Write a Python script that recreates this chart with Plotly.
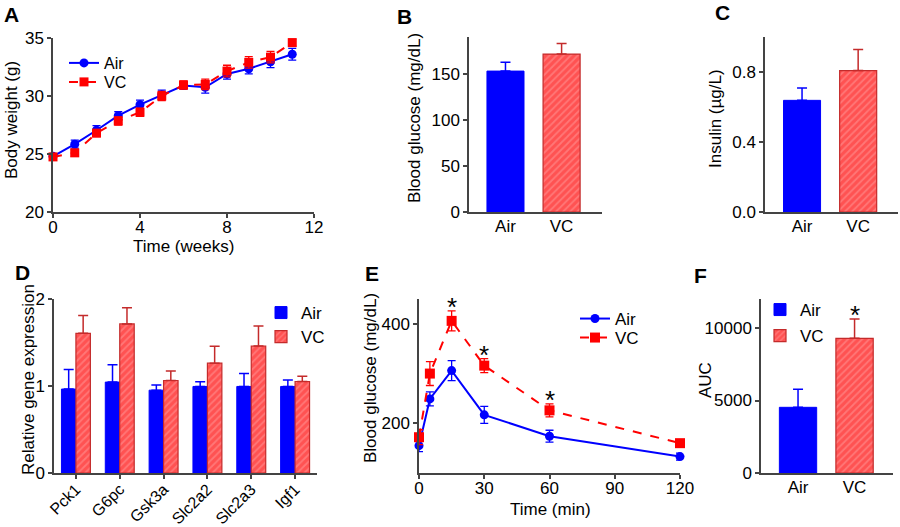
import plotly.graph_objects as go

# ---- data ----
weeks = list(range(12))
air_bw = [24.8, 25.85, 27.05, 28.3, 29.25, 30.1, 30.9, 30.75, 31.9, 32.35, 32.95, 33.6]
air_bw_err = [0.2, 0.35, 0.4, 0.35, 0.4, 0.4, 0.3, 0.5, 0.45, 0.45, 0.5, 0.5]
vc_bw = [24.75, 25.1, 26.8, 27.85, 28.6, 30.0, 30.95, 31.0, 32.15, 32.9, 33.35, 34.6]
vc_bw_err = [0.2, 0.3, 0.3, 0.35, 0.35, 0.4, 0.35, 0.45, 0.5, 0.5, 0.5, 0.3]

groups = ["Air", "VC"]
glucose = [153, 171.5]
glucose_err = [9.5, 11.5]
insulin = [0.638, 0.808]
insulin_err = [0.07, 0.12]

genes = ["Pck1", "G6pc", "Gsk3a", "Slc2a2", "Slc2a3", "Igf1"]
air_gene = [0.965, 1.045, 0.952, 0.995, 0.995, 0.995]
air_gene_err = [0.225, 0.2, 0.06, 0.055, 0.15, 0.075]
vc_gene = [1.605, 1.713, 1.063, 1.262, 1.46, 1.052]
vc_gene_err = [0.205, 0.185, 0.11, 0.195, 0.23, 0.06]

gtt_time = [0, 5, 15, 30, 60, 120]
air_gtt = [155, 249, 306, 217, 174, 133]
air_gtt_err = [12, 14, 20, 17, 12, 7]
vc_gtt = [172, 300, 406, 316, 226, 160]
vc_gtt_err = [15, 24, 20, 14, 13, 7]
gtt_signif = [15, 30, 60]

auc = [4530, 9290]
auc_err = [1240, 1330]

# ---- styling ----
BLUE = "#0000FF"
RED = "#FF0000"
RED_EDGE = "#C42B2B"
AXC = "#444444"
FONT = "Liberation Sans, Arial, sans-serif"
W, H = 900, 527

hatch = dict(shape="/", bgcolor="#FF5252", fgcolor="#FF9C9C", size=5, solidity=0.35)


def xd(a, b):
    return [a / W, b / W]


def yd(top, bottom):
    return [1 - bottom / H, 1 - top / H]


def up_err(err, color):
    return dict(type="data", array=err, arrayminus=[0] * len(err), symmetric=False,
                color=color, thickness=1.5, width=5)


def sym_err(err, color):
    return dict(type="data", array=err, color=color, thickness=1.3, width=4)


fig = go.Figure()

# A: body weight
fig.add_trace(go.Scatter(x=weeks, y=air_bw, error_y=sym_err(air_bw_err, BLUE), name="Air",
                         mode="lines+markers", line=dict(color=BLUE, width=2),
                         marker=dict(symbol="circle", size=9, color=BLUE),
                         xaxis="x", yaxis="y", legend="legend", cliponaxis=False))
fig.add_trace(go.Scatter(x=weeks, y=vc_bw, error_y=sym_err(vc_bw_err, RED), name="VC",
                         mode="lines+markers", line=dict(color=RED, width=2, dash="dash"),
                         marker=dict(symbol="square", size=9, color=RED),
                         xaxis="x", yaxis="y", legend="legend2", cliponaxis=False))

# B: blood glucose
fig.add_trace(go.Bar(x=[groups[0]], y=[glucose[0]], error_y=up_err([glucose_err[0]], BLUE),
                     marker=dict(color=BLUE, line=dict(color=BLUE, width=1)),
                     width=0.66, offset=-0.33, showlegend=False, xaxis="x2", yaxis="y2"))
fig.add_trace(go.Bar(x=[groups[1]], y=[glucose[1]], error_y=up_err([glucose_err[1]], RED_EDGE),
                     marker=dict(color="#FF5252", pattern=hatch, line=dict(color=RED_EDGE, width=1.2)),
                     width=0.66, offset=-0.33, showlegend=False, xaxis="x2", yaxis="y2"))

# C: insulin
fig.add_trace(go.Bar(x=[groups[0]], y=[insulin[0]], error_y=up_err([insulin_err[0]], BLUE),
                     marker=dict(color=BLUE, line=dict(color=BLUE, width=1)),
                     width=0.66, offset=-0.33, showlegend=False, xaxis="x3", yaxis="y3"))
fig.add_trace(go.Bar(x=[groups[1]], y=[insulin[1]], error_y=up_err([insulin_err[1]], RED_EDGE),
                     marker=dict(color="#FF5252", pattern=hatch, line=dict(color=RED_EDGE, width=1.2)),
                     width=0.66, offset=-0.33, showlegend=False, xaxis="x3", yaxis="y3"))

# D: gene expression
fig.add_trace(go.Bar(x=genes, y=air_gene, error_y=up_err(air_gene_err, BLUE), name="Air",
                     marker=dict(color=BLUE, line=dict(color=BLUE, width=1)),
                     width=0.33, offset=-0.33, xaxis="x4", yaxis="y4", legend="legend3"))
fig.add_trace(go.Bar(x=genes, y=vc_gene, error_y=up_err(vc_gene_err, RED_EDGE), name="VC",
                     marker=dict(color="#FF5252", pattern=hatch, line=dict(color=RED_EDGE, width=1.2)),
                     width=0.33, offset=0, xaxis="x4", yaxis="y4", legend="legend4"))

# E: glucose tolerance
fig.add_trace(go.Scatter(x=gtt_time, y=air_gtt, error_y=sym_err(air_gtt_err, BLUE), name="Air",
                         mode="lines+markers", line=dict(color=BLUE, width=2),
                         marker=dict(symbol="circle", size=9, color=BLUE),
                         xaxis="x5", yaxis="y5", legend="legend5", cliponaxis=False))
fig.add_trace(go.Scatter(x=gtt_time, y=vc_gtt, error_y=sym_err(vc_gtt_err, RED), name="VC",
                         mode="lines+markers", line=dict(color=RED, width=2, dash="dash"),
                         marker=dict(symbol="square", size=10, color=RED),
                         xaxis="x5", yaxis="y5", legend="legend6", cliponaxis=False))

# F: AUC
fig.add_trace(go.Bar(x=[groups[0]], y=[auc[0]], error_y=up_err([auc_err[0]], BLUE), name="Air",
                     marker=dict(color=BLUE, line=dict(color=BLUE, width=1)),
                     width=0.66, offset=-0.33, xaxis="x6", yaxis="y6", legend="legend7"))
fig.add_trace(go.Bar(x=[groups[1]], y=[auc[1]], error_y=up_err([auc_err[1]], RED_EDGE), name="VC",
                     marker=dict(color="#FF5252", pattern=hatch, line=dict(color=RED_EDGE, width=1.2)),
                     width=0.66, offset=-0.33, xaxis="x6", yaxis="y6", legend="legend8"))

axis_common = dict(showline=True, linecolor=AXC, linewidth=1.5, ticks="outside", ticklen=4,
                   tickcolor=AXC, tickwidth=1.5, showgrid=False, zeroline=False, automargin=False,
                   tickfont=dict(size=17, color="black", family=FONT))

layout_axes = {
    "xaxis": dict(axis_common, domain=xd(53, 314), anchor="y", range=[0, 12], tickvals=[0, 4, 8, 12],
                  ticklabelstandoff=-5),
    "yaxis": dict(axis_common, domain=yd(38, 212), anchor="x", range=[20, 35], tickvals=[20, 25, 30, 35]),
    "xaxis2": dict(axis_common, domain=xd(469, 602), anchor="y2", range=[-0.65, 1.72], ticks="",
                   ticklabelstandoff=-2),
    "yaxis2": dict(axis_common, domain=yd(37, 212), anchor="x2", range=[0, 190], tickvals=[0, 50, 100, 150]),
    "xaxis3": dict(axis_common, domain=xd(765, 898), anchor="y3", range=[-0.66, 1.71], ticks="",
                   ticklabelstandoff=-2),
    "yaxis3": dict(axis_common, domain=yd(37, 212), anchor="x3", range=[0, 1.0], tickvals=[0, 0.4, 0.8],
                   tickformat=".1f"),
    "xaxis4": dict(axis_common, domain=xd(54, 317), anchor="y4", range=[-0.5, 5.5], tickangle=-45,
                   ticklabelstandoff=-5, tickfont=dict(size=16, color="black", family=FONT)),
    "yaxis4": dict(axis_common, domain=yd(299, 473), anchor="x4", range=[0, 2], tickvals=[0, 1, 2]),
    "xaxis5": dict(axis_common, domain=xd(419, 680), anchor="y5", range=[0, 120],
                   tickvals=[0, 30, 60, 90, 120], ticklabelstandoff=-5),
    "yaxis5": dict(axis_common, domain=yd(299, 473), anchor="x5", range=[100, 450], tickvals=[200, 400]),
    "xaxis6": dict(axis_common, domain=xd(761, 893), anchor="y6", range=[-0.655, 1.68], ticks="",
                   ticklabelstandoff=-2),
    "yaxis6": dict(axis_common, domain=yd(299, 473), anchor="x6", range=[0, 12000],
                   tickvals=[0, 5000, 10000], tickformat="d"),
}

annotations = []


def label(text, x, y, size=21, bold=True, angle=0):
    annotations.append(dict(text=f"<b>{text}</b>" if bold else text, x=x / W, y=1 - y / H,
                            xref="paper", yref="paper", showarrow=False, textangle=angle,
                            xanchor="center", yanchor="middle",
                            font=dict(size=size, color="black", family=FONT)))


# panel letters
label("A", 11, 15)
label("B", 404, 17)
label("C", 722, 13)
label("D", 22, 272)
label("E", 372, 273)
label("F", 700, 275)

# axis titles
label("Body weight (g)", 12, 120, 17, False, -90)
label("Time (weeks)", 183, 246, 17, False)
label("Blood glucose (mg/dL)", 415, 118, 17, False, -90)
label("Insulin (µg/L)", 715, 119, 17, False, -90)
label("Relative gene expression", 28, 380, 17, False, -90)
label("Blood glucose (mg/dL)", 370, 378, 17, False, -90)
label("Time (min)", 550, 509, 17, False)
label("AUC", 705, 380, 17, False, -90)

# significance stars
for t in gtt_signif:
    i = gtt_time.index(t)
    annotations.append(dict(text="*", x=t, y=vc_gtt[i] + vc_gtt_err[i], xref="x5", yref="y5",
                            showarrow=False, yanchor="middle", yshift=4,
                            font=dict(size=26, color="black", family=FONT)))
annotations.append(dict(text="*", x=groups[1], y=auc[1] + auc_err[1], xref="x6", yref="y6",
                        showarrow=False, yanchor="middle", yshift=4,
                        font=dict(size=26, color="black", family=FONT)))

leg_common = dict(font=dict(size=17, color="black", family=FONT), bgcolor="rgba(0,0,0,0)",
                  itemwidth=30, xanchor="left", yanchor="top", tracegroupgap=0)


def leg(x, y, size=17):
    # x, y: top-left of the legend box in page pixels
    return dict(leg_common, x=x / W, y=1 - y / H, font=dict(size=size, color="black", family=FONT))


fig.update_layout(
    width=W, height=H, margin=dict(l=0, r=0, t=0, b=0),
    paper_bgcolor="white", plot_bgcolor="white",
    font=dict(family=FONT, size=16, color="black"),
    annotations=annotations,
    legend=leg(64, 46, 16), legend2=leg(64, 65, 16),
    legend3=leg(261, 295), legend4=leg(261, 319),
    legend5=leg(575, 301), legend6=leg(575, 320),
    legend7=leg(760, 292), legend8=leg(760, 318),
    **layout_axes,
)

fig.write_html("out.html", config={"displayModeBar": False},
               post_script="document.body.style.margin='0px';")
